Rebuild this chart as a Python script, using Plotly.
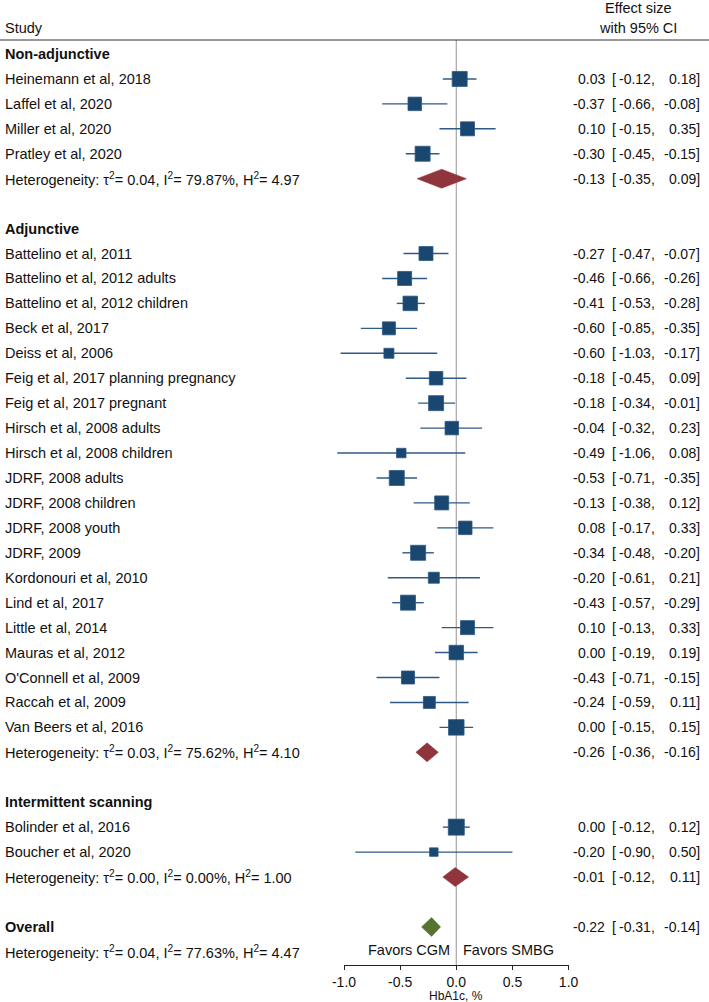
import plotly.graph_objects as go

# ---------------- data ----------------
group_names = ["Non-adjunctive", "Adjunctive", "Intermittent scanning"]

studies = [
    ["Heinemann et al, 2018", "Laffel et al, 2020", "Miller et al, 2020", "Pratley et al, 2020"],
    ["Battelino et al, 2011", "Battelino et al, 2012 adults", "Battelino et al, 2012 children",
     "Beck et al, 2017", "Deiss et al, 2006", "Feig et al, 2017 planning pregnancy",
     "Feig et al, 2017 pregnant", "Hirsch et al, 2008 adults", "Hirsch et al, 2008 children",
     "JDRF, 2008 adults", "JDRF, 2008 children", "JDRF, 2008 youth", "JDRF, 2009",
     "Kordonouri et al, 2010", "Lind et al, 2017", "Little et al, 2014", "Mauras et al, 2012",
     "O'Connell et al, 2009", "Raccah et al, 2009", "Van Beers et al, 2016"],
    ["Bolinder et al, 2016", "Boucher et al, 2020"],
]
est = [
    [0.03, -0.37, 0.10, -0.30],
    [-0.27, -0.46, -0.41, -0.60, -0.60, -0.18, -0.18, -0.04, -0.49, -0.53, -0.13, 0.08,
     -0.34, -0.20, -0.43, 0.10, 0.00, -0.43, -0.24, 0.00],
    [0.00, -0.20],
]
lo = [
    [-0.12, -0.66, -0.15, -0.45],
    [-0.47, -0.66, -0.53, -0.85, -1.03, -0.45, -0.34, -0.32, -1.06, -0.71, -0.38, -0.17,
     -0.48, -0.61, -0.57, -0.13, -0.19, -0.71, -0.59, -0.15],
    [-0.12, -0.90],
]
hi = [
    [0.18, -0.08, 0.35, -0.15],
    [-0.07, -0.26, -0.28, -0.35, -0.17, 0.09, -0.01, 0.23, 0.08, -0.35, 0.12, 0.33,
     -0.20, 0.21, -0.29, 0.33, 0.19, -0.15, 0.11, 0.15],
    [0.12, 0.50],
]
# study weights shown as marker size (px)
weights = [
    [15, 13.5, 14, 15],
    [14, 14, 14.5, 13, 10, 13.5, 15, 13.5, 9.5, 15, 14, 13.5, 15, 11, 15, 14, 14.5, 13, 12, 15.5],
    [16, 8.5],
]
pooled_est = [-0.13, -0.26, -0.01]
pooled_lo = [-0.35, -0.36, -0.12]
pooled_hi = [0.09, -0.16, 0.11]
het_tau2 = ["0.04", "0.03", "0.00"]
het_i2 = ["79.87", "75.62", "0.00"]
het_h2 = ["4.97", "4.10", "1.00"]

overall_est, overall_lo, overall_hi = -0.22, -0.31, -0.14
overall_het = ("0.04", "77.63", "4.47")

tick_vals = [-1.0, -0.5, 0.0, 0.5, 1.0]
tick_text = ["-1.0", "-0.5", "0.0", "0.5", "1.0"]

# ---------------- layout constants ----------------
W, H = 709, 1002
ROW0_PX, ROW_PX = 54, 24.94          # pixel of row 0, pixel per row
X_M1_PX, X_P1_PX = 344, 568.6        # pixel positions of -1 and +1
UNIT = (X_P1_PX - X_M1_PX) / 2
XMIN = -1 - X_M1_PX / UNIT
XMAX = 1 + (W - X_P1_PX) / UNIT
YMIN = -ROW0_PX / ROW_PX
YMAX = (H - ROW0_PX) / ROW_PX
AXIS_PX = 965
HEADER_PX = 40

FONT = "Liberation Sans, Arial, Helvetica, sans-serif"
FS = 14.5
FS_CI = 14
TXT = "#111111"
NAVY = "#1a476f"
CI_COL = "#2f5a88"
MAROON = "#90353b"
GREEN = "#55752f"


def px2paper_x(px):
    return px / W


def px2paper_y(px):
    return 1 - px / H


def fmt(v):
    if abs(v) < 0.005:
        v = 0.0
    return f"{v:.2f}"


fig = go.Figure()
annotations = []


def text(row, s, x_px, anchor="left", bold=False, yref="y", size=FS):
    annotations.append(dict(
        x=px2paper_x(x_px), xref="paper", y=row, yref=yref, text=(f"<b>{s}</b>" if bold else s),
        showarrow=False, xanchor=anchor, yanchor="middle",
        font=dict(family=FONT, size=size, color=TXT),
    ))


def ci_text(row, e, l, h):
    text(row, fmt(e), 607, "right", size=FS_CI)
    text(row, "[", 610, "left", size=FS_CI)
    text(row, fmt(l) + ",", 657, "right", size=FS_CI)
    text(row, fmt(h) + "]", 701.5, "right", size=FS_CI)


def diamond(row, e, l, h, color, half=0.38):
    fig.add_trace(go.Scatter(
        x=[l, e, h, e, l], y=[row, row - half, row, row + half, row],
        mode="lines", fill="toself", fillcolor=color, line=dict(color=color, width=0.5),
        hoverinfo="skip", showlegend=False,
    ))


row = 0
for g in range(len(group_names)):
    text(row, group_names[g], 3, bold=True)
    row += 1
    sq_x, sq_y, sq_s = [], [], []
    for i, name in enumerate(studies[g]):
        text(row, name, 3)
        ci_text(row, est[g][i], lo[g][i], hi[g][i])
        fig.add_trace(go.Scatter(
            x=[lo[g][i], hi[g][i]], y=[row, row], mode="lines",
            line=dict(color=CI_COL, width=1.4), hoverinfo="skip", showlegend=False,
        ))
        sq_x.append(est[g][i]); sq_y.append(row); sq_s.append(weights[g][i])
        row += 1
    fig.add_trace(go.Scatter(
        x=sq_x, y=sq_y, mode="markers",
        marker=dict(symbol="square", size=sq_s, color=NAVY, opacity=1,
                    line=dict(color="#2c5884", width=0.8)),
        hoverinfo="skip", showlegend=False,
    ))
    text(row, f"Heterogeneity: τ<sup>2</sup>= {het_tau2[g]}, I<sup>2</sup>= {het_i2[g]}%, H<sup>2</sup>= {het_h2[g]}", 3)
    ci_text(row, pooled_est[g], pooled_lo[g], pooled_hi[g])
    diamond(row, pooled_est[g], pooled_lo[g], pooled_hi[g], MAROON)
    row += 2

text(row, "Overall", 3, bold=True)
ci_text(row, overall_est, overall_lo, overall_hi)
diamond(row, overall_est, overall_lo, overall_hi, GREEN)
row += 1
text(row, f"Heterogeneity: τ<sup>2</sup>= {overall_het[0]}, I<sup>2</sup>= {overall_het[1]}%, H<sup>2</sup>= {overall_het[2]}", 3)

# favors labels
text(row - 0.08, "Favors CGM", 452, "right")
text(row - 0.08, "Favors SMBG", 461, "left")

# header
text(px2paper_y(28), "Study", 3, yref="paper")
text(px2paper_y(8), "Effect size", 638, "center", yref="paper")
text(px2paper_y(28), "with 95% CI", 638, "center", yref="paper")

# axis title
text(px2paper_y(995.5), "HbA1c, %", 456.3, "center", yref="paper", size=12)

shapes = [
    dict(type="line", xref="paper", yref="paper", x0=0, x1=1,
         y0=px2paper_y(HEADER_PX), y1=px2paper_y(HEADER_PX), line=dict(color="#333333", width=1)),
    dict(type="line", xref="x", yref="paper", x0=0, x1=0,
         y0=px2paper_y(AXIS_PX), y1=px2paper_y(HEADER_PX), line=dict(color="#a6a6a6", width=1.2), layer="below"),
]

# dummy trace for the bottom axis subplot
fig.add_trace(go.Scatter(x=[0], y=[0], xaxis="x2", yaxis="y2", mode="markers",
                         marker=dict(size=1, opacity=0), hoverinfo="skip", showlegend=False))

fig.update_layout(
    width=W, height=H, margin=dict(l=0, r=0, t=0, b=0, autoexpand=False),
    paper_bgcolor="white", plot_bgcolor="rgba(0,0,0,0)",
    xaxis=dict(domain=[0, 1], range=[XMIN, XMAX], visible=False, fixedrange=True),
    yaxis=dict(domain=[0, 1], range=[YMAX, YMIN], visible=False, fixedrange=True),
    xaxis2=dict(domain=[px2paper_x(X_M1_PX), px2paper_x(X_P1_PX)], range=[-1, 1], anchor="y2",
                showline=True, linecolor="#222222", linewidth=1, ticks="outside", ticklen=4,
                tickcolor="#222222", tickvals=tick_vals, ticktext=tick_text, showgrid=False,
                zeroline=False, automargin=False, ticklabelstandoff=0,
                tickfont=dict(family=FONT, size=14, color=TXT)),
    yaxis2=dict(domain=[px2paper_y(AXIS_PX), px2paper_y(AXIS_PX - 1)], anchor="x2", visible=False, range=[0, 1]),
    annotations=annotations, shapes=shapes, showlegend=False,
)

fig.write_html("out.html", config={"displayModeBar": False, "staticPlot": True},
               post_script="document.body.style.margin='0';document.body.style.overflow='hidden';")
